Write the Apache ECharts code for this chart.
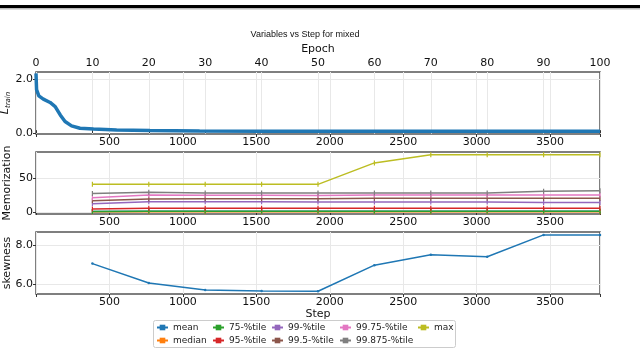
<!DOCTYPE html>
<html>
<head>
<meta charset="utf-8">
<script src="https://cdn.jsdelivr.net/npm/echarts@6/dist/echarts.min.js"></script>
<style>
  html, body { margin: 0; padding: 0; background: #fff; }
  #chart { width: 640px; height: 350px; }
</style>
</head>
<body>
<div id="chart"></div>
<script>
// training loss over epochs (top panel)
const lossEpoch = [0, 0.1, 0.5, 1.3, 2.5, 3.4, 4.3, 5.15, 6.3, 7.8, 10.2, 14.3, 20.2, 29, 40, 55, 70, 85, 100]
const lossValue = [2.2, 1.6, 1.37, 1.25, 1.13, 0.98, 0.67, 0.43, 0.27, 0.18, 0.15, 0.12, 0.1, 0.08, 0.075, 0.072, 0.07, 0.07, 0.07]

// evaluation steps (middle + bottom panels)
const evalSteps = [384, 768, 1152, 1536, 1920, 2304, 2688, 3072, 3456, 3840]

const memMean = [0.8, 0.9, 0.9, 0.9, 0.9, 0.9, 0.9, 0.9, 0.9, 0.9]
const memMedian = [0.3, 0.4, 0.4, 0.4, 0.4, 0.4, 0.4, 0.4, 0.4, 0.4]
const mem75 = [0.5, 1, 1, 1, 1, 1, 1, 1, 1, 1]
const mem95 = [4.2, 5.4, 5.4, 5.4, 5.4, 5.4, 5.4, 5.4, 5.4, 5.4]
const mem99 = [12, 15, 15, 15, 14.5, 14.5, 14.5, 14.5, 14, 14]
const mem995 = [16.5, 19, 19.5, 19.5, 19.5, 20, 20, 20, 20, 20]
const mem9975 = [21, 25, 24.5, 24.5, 24, 25, 25, 25, 25, 25]
const mem99875 = [27, 29, 28, 28, 28, 28, 28, 28, 30.5, 31]
const memMax = [40.5, 40.5, 40.5, 40.5, 40.5, 72, 84, 84, 84, 84]

const skewMean = [7.05, 6.05, 5.7, 5.65, 5.63, 6.97, 7.5, 7.4, 8.52, 8.52]

const memNames = ['mean', 'median', '75-%tile', '95-%tile', '99-%tile', '99.5-%tile', '99.75-%tile', '99.875-%tile', 'max']
const memData = [memMean, memMedian, mem75, mem95, mem99, mem995, mem9975, mem99875, memMax]
const colors = ['#1f77b4', '#ff7f0e', '#2ca02c', '#d62728', '#9467bd', '#8c564b', '#e377c2', '#7f7f7f', '#bcbd22']

// legend columns (matplotlib ncol=5, filled column-wise)
const legendCols = [['mean', 'median'], ['75-%tile', '95-%tile'], ['99-%tile', '99.5-%tile'], ['99.75-%tile', '99.875-%tile'], ['max']]
const legendLefts = [156, 212, 271, 339, 417]

const font = 'DejaVu Sans'
const gridColor = '#e8e8e8'
const pair = (xs, ys) => xs.map((x, i) => [x, ys[i]])

const stepAxis = (gridIndex, extra) => Object.assign({
    type: 'value', gridIndex, position: 'bottom', min: 0, max: 3840, interval: 500,
    axisLine: { show: false },
    axisTick: { show: true, length: 3, lineStyle: { color: '#333' } },
    axisLabel: {
        margin: 3, fontSize: 11, fontFamily: font, color: '#111',
        formatter: v => (v > 0 && v < 3800) ? String(v) : ''
    },
    splitLine: { show: true, lineStyle: { color: gridColor, width: 1 } }
}, extra)

const yAxisBase = (gridIndex, min, max, ticks, fmt, name, gap) => ({
    type: 'value', gridIndex, min, max,
    name, nameLocation: 'middle', nameGap: gap, nameRotate: 90, nameMoveOverlap: false,
    nameTextStyle: { fontSize: 11, fontFamily: font, color: '#111' },
    axisLine: { show: false },
    axisTick: { show: true, length: 3, customValues: ticks, lineStyle: { color: '#333' } },
    axisLabel: { margin: 3, fontSize: 11, fontFamily: font, color: '#111', customValues: ticks, formatter: fmt },
    splitLine: { show: false }
})

const hGrid = vals => ({
    silent: true, symbol: 'none', z: 1,
    label: { show: false },
    lineStyle: { color: gridColor, width: 1, type: 'solid' },
    data: vals.map(v => ({ yAxis: v }))
})

const series = []
series.push({
    name: 'L_train', type: 'line', xAxisIndex: 0, yAxisIndex: 0,
    data: pair(lossEpoch, lossValue), showSymbol: false,
    lineStyle: { color: '#1f77b4', width: 3.5 }, itemStyle: { color: '#1f77b4' },
    markLine: hGrid([2])
})
memNames.forEach((n, i) => {
    series.push({
        name: n, type: 'line', xAxisIndex: 2, yAxisIndex: 1,
        data: pair(evalSteps, memData[i]),
        symbol: 'rect', symbolSize: [1.2, 5],
        lineStyle: { color: colors[i], width: 1.5 }, itemStyle: { color: colors[i] },
        markLine: i === 0 ? hGrid([0, 50]) : undefined
    })
})
series.push({
    name: 'mean', type: 'line', xAxisIndex: 3, yAxisIndex: 2,
    data: pair(evalSteps, skewMean),
    symbol: 'circle', symbolSize: 2.5,
    lineStyle: { color: colors[0], width: 1.5 }, itemStyle: { color: colors[0] },
    markLine: hGrid([6, 8])
})

const gridBase = { left: 36, right: 40, height: 62, show: true, borderColor: '#555', borderWidth: 1.5, outerBoundsMode: 'none', containLabel: false }

const option = {
    animation: false,
    backgroundColor: '#fff',
    grid: [
        Object.assign({ top: 72 }, gridBase),
        Object.assign({ top: 152 }, gridBase),
        Object.assign({ top: 232 }, gridBase)
    ],
    xAxis: [
        {
            type: 'value', gridIndex: 0, position: 'top', min: 0, max: 100, interval: 10,
            name: 'Epoch', nameLocation: 'middle', nameGap: 17, nameMoveOverlap: false,
            nameTextStyle: { fontSize: 11, fontFamily: font, color: '#111' },
            axisLine: { show: false },
            axisTick: { show: true, length: 3, lineStyle: { color: '#333' } },
            axisLabel: { margin: 3, fontSize: 11, fontFamily: font, color: '#111' },
            splitLine: { show: true, lineStyle: { color: gridColor, width: 1 } }
        },
        stepAxis(0),
        stepAxis(1),
        stepAxis(2, {
            name: 'Step', nameLocation: 'middle', nameGap: 15, nameMoveOverlap: false,
            nameTextStyle: { fontSize: 11, fontFamily: font, color: '#111' }
        })
    ],
    yAxis: [
        yAxisBase(0, -0.03, 2.25, [0, 2], v => v.toFixed(1), '{i|L}{s|train}', 24),
        yAxisBase(1, -3, 88, [0, 50], v => String(v), 'Memorization', 23),
        yAxisBase(2, 5.49, 8.67, [6, 8], v => v.toFixed(1), 'skewness', 23)
    ],
    legend: legendCols.map((col, i) => ({
        data: col, orient: 'vertical', left: legendLefts[i], top: 323, padding: 0,
        itemWidth: 11, itemHeight: 7, itemGap: 4,
        textStyle: { fontSize: 9, fontFamily: font, color: '#222' },
        selectedMode: false
    })),
    graphic: [
        { type: 'rect', shape: { x: 0, y: 5, width: 640, height: 3 }, style: { fill: '#000' } },
        { type: 'rect', shape: { x: 0, y: 8, width: 640, height: 1.5 }, style: { fill: '#bbb' } },
        {
            type: 'text', x: 305, y: 35,
            style: {
                text: 'Variables vs Step for mixed', font: '9px "Liberation Sans"', fill: '#111',
                align: 'center', verticalAlign: 'middle', textAlign: 'center', textVerticalAlign: 'middle'
            }
        },
        {
            type: 'rect', shape: { x: 153.5, y: 320.5, width: 302, height: 27, r: 2 },
            style: { fill: 'none', stroke: '#ccc', lineWidth: 1 }, z: -1
        }
    ],
    series
}

// italic L with "train" subscript for the top panel's y name
option.yAxis[0].nameTextStyle = {
    fontSize: 11, fontFamily: font, color: '#111',
    rich: {
        i: { fontSize: 11, fontStyle: 'italic', fontFamily: font, color: '#111', lineHeight: 13 },
        s: { fontSize: 7, fontStyle: 'italic', fontFamily: font, color: '#111', lineHeight: 13, verticalAlign: 'bottom' }
    }
}

const chart = echarts.init(document.getElementById('chart'))
chart.setOption(option)
</script>
</body>
</html>
